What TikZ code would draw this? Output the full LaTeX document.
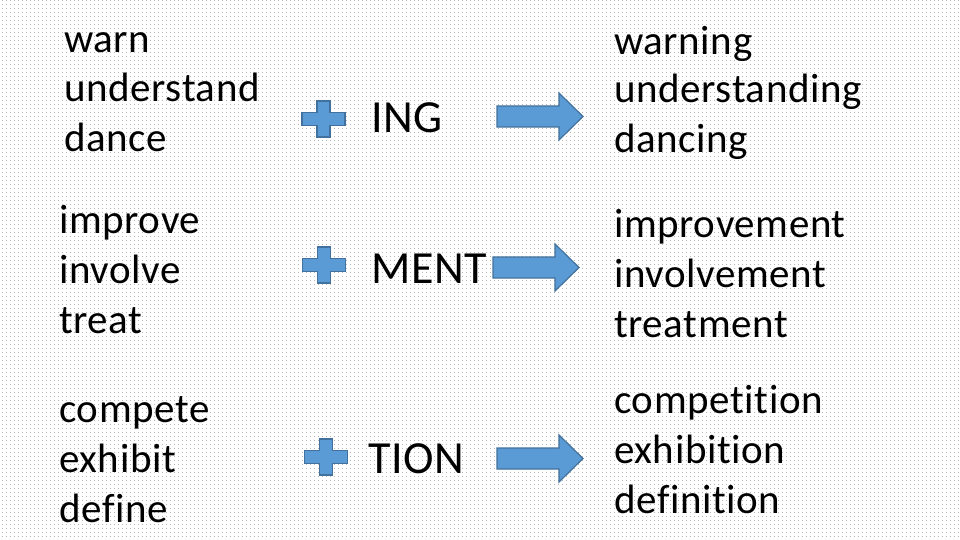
\documentclass[tikz,border=0pt]{standalone}
\usepackage{fontspec}
\setmainfont{Carlito}[Ligatures={NoCommon}, LetterSpace=1.5]
\usetikzlibrary{patterns.meta}
\definecolor{plusblue}{RGB}{91,155,213}
\definecolor{plusedge}{RGB}{65,113,156}

\begin{document}
\begin{tikzpicture}[x=1pt, y=-1pt]

		% Define styles
		\tikzstyle{word} = [anchor=base west, inner sep=0pt, font=\fontsize{41}{50}\selectfont]
		\tikzstyle{suffix} = [anchor=base west, inner sep=0pt, font=\fontsize{46}{55}\selectfont]
		\tikzstyle{bluefill} = [fill=plusblue, draw=plusedge, line width=1.2pt, line join=miter]

		% Dotted background
		\fill[white] (0,0) rectangle (960,540);
		\fill[pattern={Dots[distance=4pt, radius=0.55pt]}, pattern color=gray] (0,0) rectangle (960,540);
		\useasboundingbox (0,0) rectangle (960,540);

		% Base words
		\node[word] (warn) at (64,53) {warn};
		\node[word] (understand) at (64,102) {understand};
		\node[word] (dance) at (64,152) {dance};
		\node[word] (improve) at (59,233) {improve};
		\node[word] (involve) at (59,283) {involve};
		\node[word] (treat) at (59,333) {treat};
		\node[word] (compete) at (59,422) {compete};
		\node[word] (exhibit) at (59,472) {exhibit};
		\node[word] (define) at (59,522) {define};

		% Suffixes
		\node[suffix] (ing) at (371,133) {ING};
		\node[suffix] (ment) at (371,283) {MENT};
		\node[suffix] (tion) at (368,473) {TION};

		% Derived words
		\node[word] (warning) at (614,55) {warning};
		\node[word] (understanding) at (614,103) {understanding};
		\node[word] (dancing) at (614,153) {dancing};
		\node[word] (improvement) at (614,237) {improvement};
		\node[word] (involvement) at (614,287) {involvement};
		\node[word] (treatment) at (614,337) {treatment};
		\node[word] (competition) at (614,413) {competition};
		\node[word] (exhibition) at (614,463) {exhibition};
		\node[word] (definition) at (614,513) {definition};

		% Plus signs
		\foreach \cx/\cy in {323.5/119, 324/265, 326/457}
			\draw[bluefill, shift={(\cx,\cy)}] (-21.5,-6.5) -- (-6.5,-6.5) -- (-6.5,-18) -- (6.5,-18) -- (6.5,-6.5) -- (21.5,-6.5) -- (21.5,6.5) -- (6.5,6.5) -- (6.5,18) -- (-6.5,18) -- (-6.5,6.5) -- (-21.5,6.5) -- cycle;

		% Block arrows
		\foreach \ax/\ay in {497/116.5, 493/267.5, 497/458.5}
			\draw[bluefill, shift={(\ax,\ay)}] (0,-10.5) -- (62,-10.5) -- (62,-23.5) -- (86,0) -- (62,23.5) -- (62,10.5) -- (0,10.5) -- cycle;

\end{tikzpicture}
\end{document}
